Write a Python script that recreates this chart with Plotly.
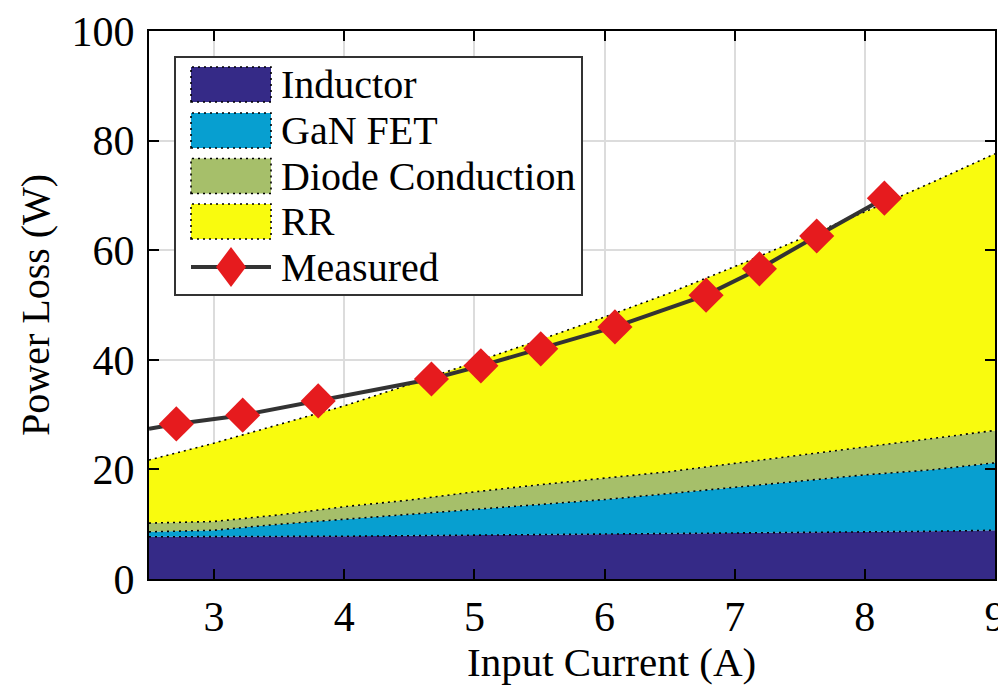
import plotly.graph_objects as go

# ---------------- data ----------------
current = [2.5, 3.0, 3.5, 4.0, 4.5, 5.0, 5.5, 6.0, 6.5, 7.0, 7.5, 8.0, 8.5, 9.0]
inductor = [7.7, 7.7, 7.8, 7.8, 7.9, 8.0, 8.0, 8.1, 8.2, 8.3, 8.4, 8.6, 8.7, 8.9]
gan_fet = [0.9, 1.2, 2.2, 3.1, 4.0, 4.7, 5.7, 6.4, 7.4, 8.4, 9.5, 10.4, 11.2, 12.3]
diode = [1.6, 1.6, 1.7, 2.3, 2.5, 3.2, 3.5, 3.9, 4.0, 4.4, 4.7, 5.1, 5.6, 5.9]
rr = [11.5, 14.3, 16.5, 18.4, 21.1, 23.6, 26.4, 29.4, 32.6, 35.9, 39.4, 42.9, 46.7, 50.5]

meas_x = [2.71, 3.22, 3.80, 4.67, 5.05, 5.51, 6.08, 6.78, 7.19, 7.63, 8.15]
meas_y = [28.3, 29.9, 32.5, 36.5, 38.9, 42.0, 46.0, 51.8, 56.6, 62.6, 69.5]
# where the measured line enters the plot at the left edge
lead_x = [2.5]
lead_y = [27.4]

series_names = ["Inductor", "GaN FET", "Diode Conduction", "RR"]
series_values = [inductor, gan_fet, diode, rr]
series_colors = ["#352a87", "#079fd0", "#a6bf6a", "#f9fb0e"]

x_ticks = [3, 4, 5, 6, 7, 8, 9]
y_ticks = [0, 20, 40, 60, 80, 100]
x_title = "Input Current (A)"
y_title = "Power Loss (W)"

FONT = "Liberation Serif"
OFF = 8  # default page body margin of the written html page
W, H = 1006 - OFF, 686 - OFF
ML, MR, MT, MB = 149 - OFF, 11, 31 - OFF, 107
PW, PH = W - ML - MR, H - MT - MB

fig = go.Figure()

for name, vals, col in zip(series_names, series_values, series_colors):
    fig.add_trace(go.Scatter(
        x=current, y=vals, name=name, mode="lines", stackgroup="loss",
        fillcolor=col, line=dict(color="black", width=1.6, dash="2px,4px"),
        showlegend=False,
    ))

fig.add_trace(go.Scatter(
    x=lead_x + meas_x, y=lead_y + meas_y, mode="lines",
    line=dict(color="#333333", width=4), showlegend=False,
))
fig.add_trace(go.Scatter(
    x=meas_x, y=meas_y, mode="markers", name="Measured",
    marker=dict(symbol="diamond", size=27, color="#e61b1e", line=dict(width=0)),
    showlegend=False,
))

# ---------------- custom legend (paper coordinates, page pixels in) ----------------
def px_x(p):
    return (p - OFF - ML) / PW

def px_y(p):
    return (OFF + H - MB - p) / PH

shapes = []
annotations = []
shapes.append(dict(type="rect", xref="paper", yref="paper",
                   x0=px_x(175), x1=px_x(582), y0=px_y(295), y1=px_y(57),
                   fillcolor="white", line=dict(color="#333333", width=2), layer="above"))
row_centers = [84.5, 130.5, 176, 221.5, 267]
sw_x0, sw_x1, sw_h = 191, 271, 35
for i, (name, col) in enumerate(zip(series_names, series_colors)):
    cy = row_centers[i]
    shapes.append(dict(type="rect", xref="paper", yref="paper",
                       x0=px_x(sw_x0), x1=px_x(sw_x1),
                       y0=px_y(cy + sw_h / 2), y1=px_y(cy - sw_h / 2),
                       fillcolor=col, line=dict(color="black", width=1.6, dash="2px,4px"),
                       layer="above"))
    annotations.append(dict(text=name, xref="paper", yref="paper", x=px_x(279), y=px_y(cy),
                            xanchor="left", yanchor="middle", showarrow=False,
                            font=dict(family=FONT, size=40, color="black")))
cy = row_centers[4]
shapes.append(dict(type="line", xref="paper", yref="paper",
                   x0=px_x(sw_x0), x1=px_x(sw_x1), y0=px_y(cy), y1=px_y(cy),
                   line=dict(color="#333333", width=4), layer="above"))
cx, hw, hh = 231, 15, 20
shapes.append(dict(type="path", xref="paper", yref="paper",
                   path=(f"M {px_x(cx - hw)} {px_y(cy)} L {px_x(cx)} {px_y(cy - hh)} "
                         f"L {px_x(cx + hw)} {px_y(cy)} L {px_x(cx)} {px_y(cy + hh)} Z"),
                   fillcolor="#e61b1e", line=dict(width=0), layer="above"))
annotations.append(dict(text="Measured", xref="paper", yref="paper", x=px_x(279), y=px_y(cy),
                        xanchor="left", yanchor="middle", showarrow=False,
                        font=dict(family=FONT, size=40, color="black")))

# axis titles
annotations.append(dict(text=x_title, xref="paper", yref="paper", x=px_x(611), y=px_y(662),
                        xanchor="center", yanchor="middle", showarrow=False,
                        font=dict(family=FONT, size=41, color="black")))
annotations.append(dict(text=y_title, xref="paper", yref="paper", x=px_x(35), y=px_y(305),
                        xanchor="center", yanchor="middle", showarrow=False, textangle=-90,
                        font=dict(family=FONT, size=40, color="black")))

axis_common = dict(
    showline=True, linewidth=2, linecolor="black", mirror="ticks",
    ticks="inside", ticklen=10, tickwidth=1.5, tickcolor="black",
    showgrid=True, gridcolor="#dcdcdc", gridwidth=1.5, zeroline=False,
    tickfont=dict(family=FONT, size=42, color="black"), automargin=False,
)

fig.update_layout(
    width=W, height=H,
    margin=dict(l=ML, r=MR, t=MT, b=MB, autoexpand=False),
    paper_bgcolor="white", plot_bgcolor="white",
    font=dict(family=FONT, color="black"),
    showlegend=False,
    shapes=shapes, annotations=annotations,
    xaxis=dict(range=[2.5, 9], tickvals=x_ticks, ticklabelstandoff=0, **axis_common),
    yaxis=dict(range=[0, 100], tickvals=y_ticks, ticklabelstandoff=4, **axis_common),
)

fig.write_html("out.html")
